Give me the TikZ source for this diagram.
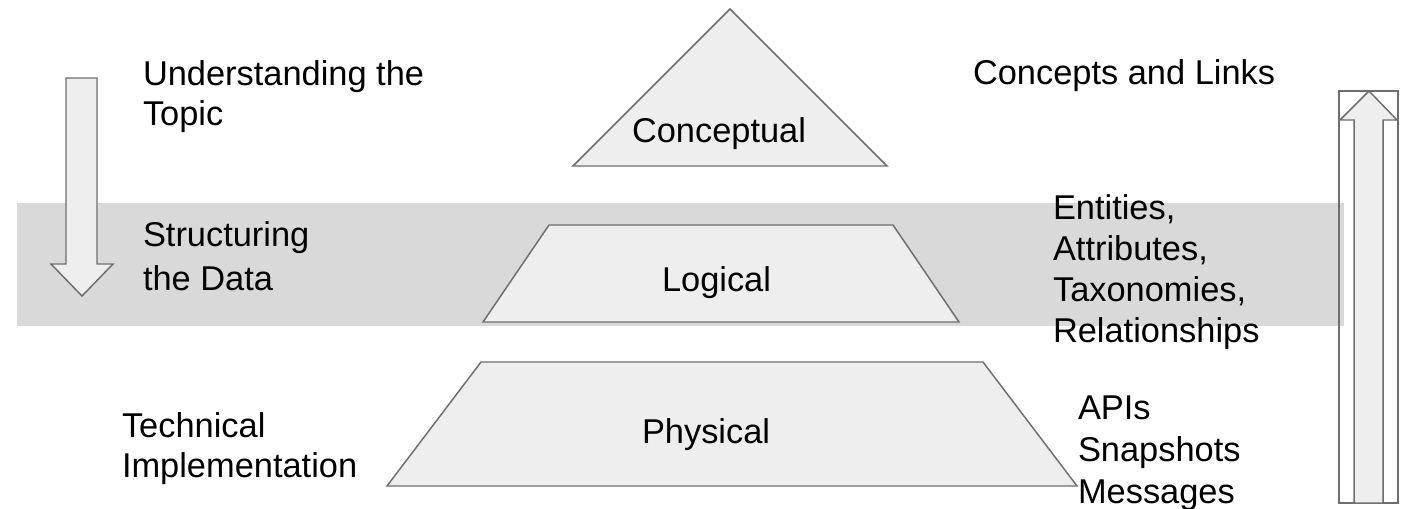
\documentclass[tikz,border=0pt]{standalone}
\usepackage{fontspec}
\setmainfont{Liberation Sans}
\definecolor{bandgray}{HTML}{D9D9D9}
\definecolor{shapefill}{HTML}{EEEEEE}
\definecolor{edgegray}{HTML}{6E6E6E}
\tikzset{
  lbl/.style={anchor=base west, inner sep=0pt, outer sep=0pt, text=black, font=\fontsize{25.8}{31}\selectfont},
  shp/.style={draw=edgegray, fill=shapefill, line width=1.1pt, line join=miter},
}
\begin{document}
\begin{tikzpicture}[x=0.75pt,y=-0.75pt]
\useasboundingbox (0,0) rectangle (1408,508);
% band
\fill[bandgray] (17,203) rectangle (1344,326);
% left down arrow
\draw[shp] (66,78) -- (97,78) -- (97,264) -- (113,264) -- (82,296) -- (51,264) -- (66,264) -- cycle;
% right up arrow with frame
\draw[draw=edgegray, line width=1.1pt] (1339,91) rectangle (1398,503);
\draw[shp] (1354,503) -- (1354,120) -- (1340,120) -- (1369,91) -- (1397,120) -- (1383,120) -- (1383,503) -- cycle;
% pyramid
\draw[shp] (730,9) -- (887,166) -- (573,166) -- cycle;
\draw[shp] (549,225) -- (893,225) -- (959,322) -- (483,322) -- cycle;
\draw[shp] (481,362) -- (983,362) -- (1077,486) -- (387,486) -- cycle;
% labels
\node[lbl] (u1) at (143,85) {Understanding the};
\node[lbl] (u2) at (143,125) {Topic};
\node[lbl] (s1) at (143,246) {Structuring};
\node[lbl] (s2) at (143,290) {the Data};
\node[lbl] (t1) at (122,437) {Technical};
\node[lbl] (t2) at (122,477) {Implementation};
\node[lbl] (conc) at (632,142) {Conceptual};
\node[lbl] (logi) at (662,291) {Logical};
\node[lbl] (phys) at (642,443) {Physical};
\node[lbl] (cl) at (973,84) {Concepts and Links};
\node[lbl] (e1) at (1053,219) {Entities,};
\node[lbl] (e2) at (1053,260) {Attributes,};
\node[lbl] (e3) at (1053,301) {Taxonomies,};
\node[lbl] (e4) at (1053,342) {Relationships};
\node[lbl] (a1) at (1078,419) {APIs};
\node[lbl] (a2) at (1078,461) {Snapshots};
\node[lbl] (a3) at (1078,503) {Messages};
\end{tikzpicture}
\end{document}
